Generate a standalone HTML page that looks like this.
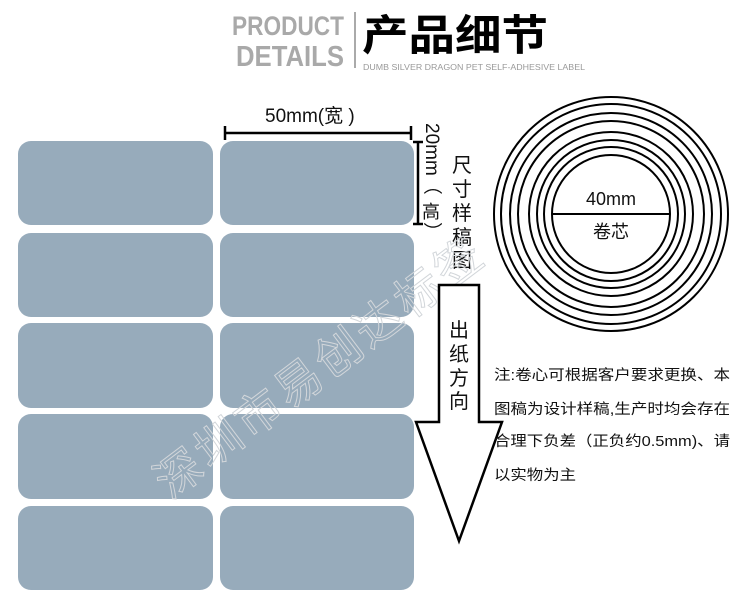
<!DOCTYPE html>
<html><head><meta charset="utf-8"><style>
html,body{margin:0;padding:0;background:#fff;}
svg{display:block;}
text{font-family:"Liberation Sans","Noto Sans CJK SC",sans-serif;}
</style></head><body>
<svg width="750" height="616" viewBox="0 0 750 616" xmlns="http://www.w3.org/2000/svg">
<rect width="750" height="616" fill="#fff"/>
<text x="232" y="35" font-size="27" fill="#a9a9a9" font-weight="bold" textLength="112" lengthAdjust="spacingAndGlyphs">PRODUCT</text>
<text x="236" y="66" font-size="29" fill="#a9a9a9" font-weight="bold" textLength="108" lengthAdjust="spacingAndGlyphs">DETAILS</text>
<line x1="355" y1="12" x2="355" y2="68" stroke="#555" stroke-width="1"/>
<text x="362" y="50" font-size="42" font-weight="bold" fill="#000" textLength="186" lengthAdjust="spacingAndGlyphs">产品细节</text>
<text x="363" y="70" font-size="8" fill="#999" textLength="222" lengthAdjust="spacingAndGlyphs">DUMB SILVER DRAGON PET SELF-ADHESIVE LABEL</text>
<g fill="#97abbb">
<rect x="18" y="141" width="195" height="84" rx="13"/><rect x="220" y="141" width="194" height="84" rx="13"/>
<rect x="18" y="233" width="195" height="84" rx="13"/><rect x="220" y="233" width="194" height="84" rx="13"/>
<rect x="18" y="323" width="195" height="85" rx="13"/><rect x="220" y="323" width="194" height="85" rx="13"/>
<rect x="18" y="414" width="195" height="85" rx="13"/><rect x="220" y="414" width="194" height="85" rx="13"/>
<rect x="18" y="506" width="195" height="84" rx="13"/><rect x="220" y="506" width="194" height="84" rx="13"/>
</g>
<text x="265" y="122" font-size="19" fill="#111">50mm(宽 )</text>
<g stroke="#000" stroke-width="2.5">
<line x1="225" y1="133" x2="411" y2="133"/><line x1="225" y1="126" x2="225" y2="140"/><line x1="411" y1="126" x2="411" y2="140"/>
<line x1="418" y1="142" x2="418" y2="224"/><line x1="413" y1="142" x2="423" y2="142"/><line x1="413" y1="224" x2="423" y2="224"/>
</g>
<text transform="translate(426,123) rotate(90)" font-size="19" fill="#111">20mm（</text>
<text x="422" y="218" font-size="18" fill="#111">高</text>
<text transform="translate(426,222) rotate(90)" font-size="19" fill="#111">）</text>
<g font-size="20" fill="#111">
<text x="452" y="172">尺</text><text x="452" y="196">寸</text><text x="452" y="220">样</text><text x="452" y="244">稿</text><text x="452" y="267">图</text>
</g>
<text transform="translate(170,500) rotate(-37)" font-size="46" fill="none" stroke="#d2d6da" stroke-width="1" font-family="Noto Serif CJK SC,serif" letter-spacing="4">深圳市易创达标签</text>
<path d="M439,285 L479,285 L479,422 L502,422 L459,541 L416,422 L439,422 Z" fill="#fff" stroke="#000" stroke-width="2.5"/>
<g font-size="20" fill="#111">
<text x="449" y="337">出</text><text x="449" y="361">纸</text><text x="449" y="385">方</text><text x="449" y="408">向</text>
</g>
<g fill="none" stroke="#000" stroke-width="2">
<circle cx="611" cy="214" r="117"/><circle cx="611" cy="214" r="110"/><circle cx="611" cy="214" r="101"/><circle cx="611" cy="214" r="93"/>
<circle cx="611" cy="214" r="82"/><circle cx="611" cy="214" r="74"/><circle cx="611" cy="214" r="67"/><circle cx="611" cy="214" r="59"/>
<line x1="552" y1="214" x2="670" y2="214"/>
</g>
<text x="611" y="205" font-size="18" fill="#111" text-anchor="middle">40mm</text>
<text x="611" y="238" font-size="18" fill="#111" text-anchor="middle">卷芯</text>
<g font-size="14.5" fill="#111">
<text x="494" y="380" textLength="236" lengthAdjust="spacingAndGlyphs">注:卷心可根据客户要求更换、本</text>
<text x="494" y="414" textLength="236" lengthAdjust="spacingAndGlyphs">图稿为设计样稿,生产时均会存在</text>
<text x="494" y="446" textLength="236" lengthAdjust="spacingAndGlyphs">合理下负差（正负约0.5mm)、请</text>
<text x="494" y="480" textLength="82" lengthAdjust="spacingAndGlyphs">以实物为主</text>
</g>
</svg>
</body></html>
